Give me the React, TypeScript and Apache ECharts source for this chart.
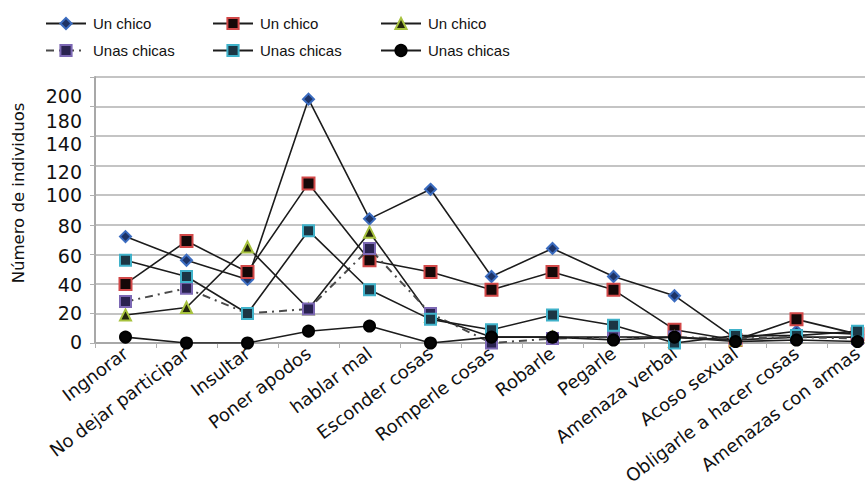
import React, { useEffect, useRef } from "react";
import * as echarts from "echarts";

const categories = [
  "Ingnorar",
  "No dejar participar",
  "Insultar",
  "Poner apodos",
  "hablar mal",
  "Esconder cosas",
  "Romperle cosas",
  "Robarle",
  "Pegarle",
  "Amenaza verbal",
  "Acoso sexual",
  "Obligarle a hacer cosas",
  "Amenazas con armas",
];

const seriesNames = ["Un chico", "Un chico", "Un chico", "Unas chicas", "Unas chicas", "Unas chicas"];

const chicoDiamond = [72, 56, 43, 165, 84, 104, 45, 64, 45, 32, 3, 8, 6];
const chicoSquare = [40, 69, 48, 108, 56, 48, 36, 48, 36, 9, 2, 16, 6];
const chicoTriangle = [19, 24, 65, 23, 75, 18, 4, 4, 4, 4, 2, 4, 4];
const chicasDashed = [28, 37, 20, 23, 64, 20, 0, 3, 4, 4, 3, 4, 3];
const chicasSquare = [56, 45, 20, 76, 36, 16, 9, 19, 12, 0, 5, 5, 8];
const chicasCircle = [4, 0, 0, 8, 11.5, 0, 4, 4, 2, 4, 1, 2, 1];

const yTickLabels = ["0", "20", "40", "60", "80", "100", "120", "140", "180", "200"];
const yTitle = "Número de individuos";

// style only: vertical shift (px) of each y tick label
const yLabelShift = [-1, 0, 1, 2, 1, 0, 6, 8, 14, 19];

const LINE = "#1c1c1c";
const uid = (n: string, i: number) => `${n}#${i}`;

export default function App() {
  const ref = useRef<HTMLDivElement>(null);
  useEffect(() => {
    if (!ref.current) return;
    const chart = echarts.init(ref.current, undefined, { renderer: "svg" });
    const rich: Record<string, any> = {};
    yLabelShift.forEach((d, i) => {
      rich["r" + i] = {
        fontFamily: "DejaVu Sans",
        fontSize: 19,
        color: "#111",
        padding: d >= 0 ? [2 * d, 0, 0, 0] : [0, 0, -2 * d, 0],
      };
    });
    const mk = (
      idx: number,
      data: number[],
      symbol: string,
      size: number,
      fill: string,
      border: string,
      dashed = false
    ) => ({
      type: "line",
      name: uid(seriesNames[idx], idx),
      data,
      symbol,
      symbolSize: size,
      showAllSymbol: true,
      itemStyle: { color: fill, borderColor: border, borderWidth: 2 },
      lineStyle: dashed
        ? { color: "#4a4a4a", width: 2, type: [8, 5, 2, 5] }
        : { color: LINE, width: 1.6 },
      emphasis: { disabled: true },
      z: 2 + idx,
    });
    const legendBase = {
      orient: "vertical",
      top: 11,
      itemGap: 12,
      itemWidth: 40,
      itemHeight: 14,
      formatter: (n: string) => n.split("#")[0],
      textStyle: { fontFamily: "Liberation Sans", fontSize: 15, color: "#111", padding: [0, 0, 0, 2] },
    };
    chart.setOption({
      animation: false,
      backgroundColor: "#fff",
      legend: [
        { ...legendBase, left: 40, data: [uid(seriesNames[0], 0), uid(seriesNames[3], 3)] },
        { ...legendBase, left: 207, data: [uid(seriesNames[1], 1), uid(seriesNames[4], 4)] },
        { ...legendBase, left: 375, data: [uid(seriesNames[2], 2), uid(seriesNames[5], 5)] },
      ],
      grid: { left: 95, top: 77, width: 793, height: 266, containLabel: false, outerBoundsMode: "none" },
      xAxis: {
        type: "category",
        data: categories,
        boundaryGap: true,
        axisLine: { lineStyle: { color: "#a8a8a8", width: 2 } },
        axisTick: { show: true, length: 5, lineStyle: { color: "#b0b0b0" } },
        axisLabel: {
          interval: 0,
          rotate: 37,
          margin: 8,
          fontFamily: "DejaVu Sans",
          fontSize: 18,
          color: "#111",
        },
      },
      yAxis: {
        type: "value",
        min: 0,
        max: 180,
        interval: 20,
        name: yTitle,
        nameLocation: "middle",
        nameRotate: 90,
        nameGap: 68,
        nameTextStyle: { fontFamily: "DejaVu Sans", fontSize: 16.5, color: "#111", padding: [0, 0, 0, 34] },
        axisLine: { show: true, lineStyle: { color: "#a8a8a8", width: 2 } },
        axisTick: { show: true, length: 5, lineStyle: { color: "#b0b0b0" } },
        splitLine: { show: true, lineStyle: { color: "#c4c4c4", width: 2 } },
        axisLabel: {
          margin: 13,
          formatter: (v: number) => {
            const i = Math.round(v / 20);
            return `{r${i}|${yTickLabels[i]}}`;
          },
          rich,
        },
      },
      series: [
        mk(0, chicoDiamond, "diamond", 11, "#1d3366", "#3b6cc0"),
        mk(1, chicoSquare, "rect", 12, "#150808", "#d24848"),
        mk(2, chicoTriangle, "triangle", 11, "#23260c", "#a7c23e"),
        mk(3, chicasDashed, "rect", 11, "#2a2350", "#7c68b4", true),
        mk(4, chicasSquare, "rect", 11, "#1b3644", "#40b2ca"),
        mk(5, chicasCircle, "circle", 11, "#050505", "#000000"),
      ],
    });
    return () => chart.dispose();
  }, []);
  return (
    <div
      ref={ref}
      style={{ position: "absolute", left: 0, top: 0, width: 865, height: 498 }}
    />
  );
}
